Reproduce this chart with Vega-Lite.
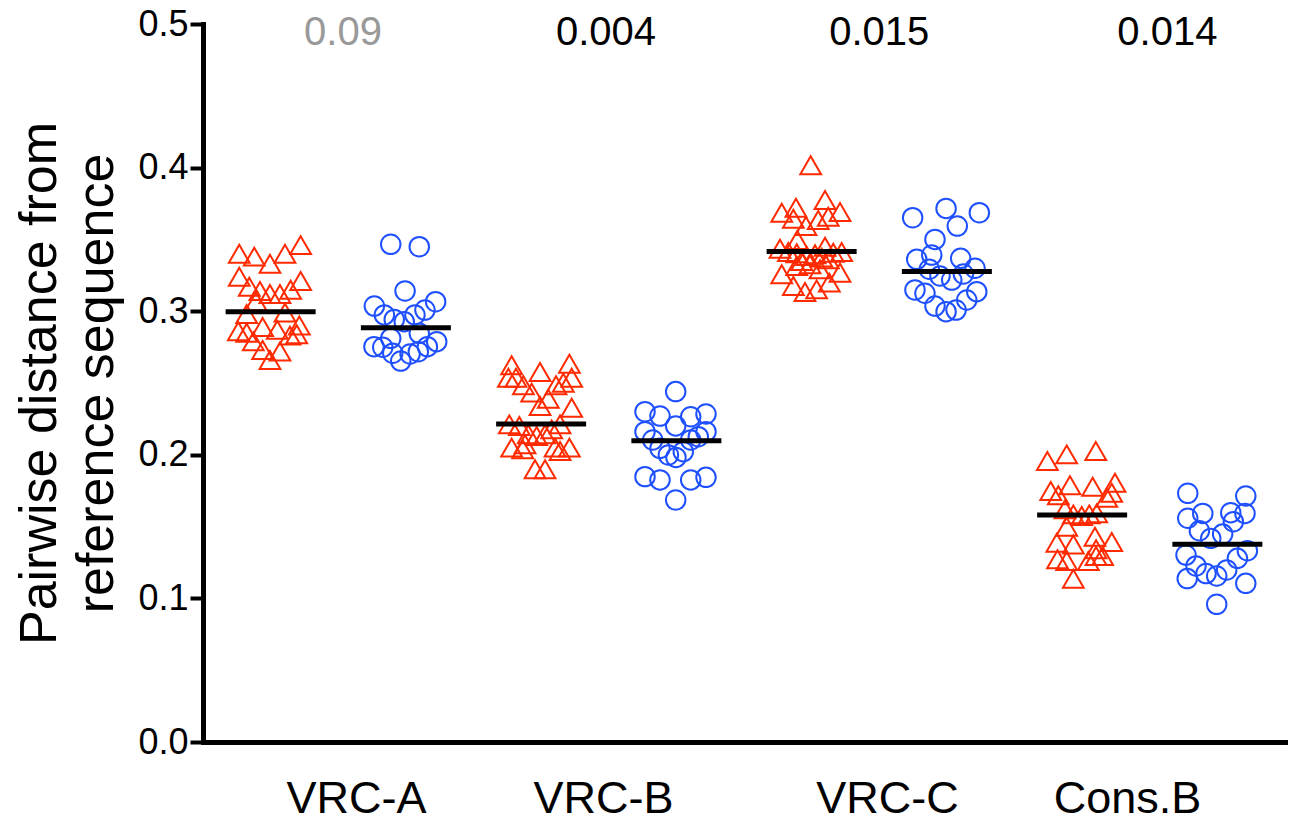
{
  "$schema": "https://vega.github.io/schema/vega-lite/v6.json",
  "width": 1082,
  "height": 718,
  "autosize": {"type": "none"},
  "padding": {"left": 203, "top": 24, "right": 5, "bottom": 80},
  "background": "white",
  "config": {
    "font": "Liberation Sans",
    "view": {"stroke": null},
    "axis": {"grid": false}
  },
  "datasets": {
    "pts": [
      {"g":"VRC-A","series":"Set 1","x":0.268,"v":0.340},{"g":"VRC-A","series":"Set 1","x":0.379,"v":0.338},{"g":"VRC-A","series":"Set 1","x":0.495,"v":0.333},{"g":"VRC-A","series":"Set 1","x":0.606,"v":0.340},{"g":"VRC-A","series":"Set 1","x":0.722,"v":0.346},{"g":"VRC-A","series":"Set 1","x":0.268,"v":0.324},{"g":"VRC-A","series":"Set 1","x":0.342,"v":0.317},{"g":"VRC-A","series":"Set 1","x":0.421,"v":0.314},{"g":"VRC-A","series":"Set 1","x":0.495,"v":0.312},{"g":"VRC-A","series":"Set 1","x":0.569,"v":0.312},{"g":"VRC-A","series":"Set 1","x":0.648,"v":0.315},{"g":"VRC-A","series":"Set 1","x":0.722,"v":0.321},{"g":"VRC-A","series":"Set 1","x":0.392,"v":0.307},{"g":"VRC-A","series":"Set 1","x":0.323,"v":0.298},{"g":"VRC-A","series":"Set 1","x":0.606,"v":0.299},{"g":"VRC-A","series":"Set 1","x":0.261,"v":0.286},{"g":"VRC-A","series":"Set 1","x":0.323,"v":0.285},{"g":"VRC-A","series":"Set 1","x":0.441,"v":0.289},{"g":"VRC-A","series":"Set 1","x":0.549,"v":0.287},{"g":"VRC-A","series":"Set 1","x":0.712,"v":0.290},{"g":"VRC-A","series":"Set 1","x":0.693,"v":0.284},{"g":"VRC-A","series":"Set 1","x":0.372,"v":0.279},{"g":"VRC-A","series":"Set 1","x":0.643,"v":0.283},{"g":"VRC-A","series":"Set 1","x":0.441,"v":0.273},{"g":"VRC-A","series":"Set 1","x":0.569,"v":0.272},{"g":"VRC-A","series":"Set 1","x":0.495,"v":0.266},
      {"g":"VRC-A","series":"Set 2","x":1.388,"v":0.3466},{"g":"VRC-A","series":"Set 2","x":1.599,"v":0.3449},{"g":"VRC-A","series":"Set 2","x":1.494,"v":0.3141},{"g":"VRC-A","series":"Set 2","x":1.267,"v":0.3036},{"g":"VRC-A","series":"Set 2","x":1.341,"v":0.2974},{"g":"VRC-A","series":"Set 2","x":1.414,"v":0.2943},{"g":"VRC-A","series":"Set 2","x":1.488,"v":0.2927},{"g":"VRC-A","series":"Set 2","x":1.567,"v":0.2974},{"g":"VRC-A","series":"Set 2","x":1.641,"v":0.3008},{"g":"VRC-A","series":"Set 2","x":1.720,"v":0.3066},{"g":"VRC-A","series":"Set 2","x":1.388,"v":0.2811},{"g":"VRC-A","series":"Set 2","x":1.599,"v":0.2846},{"g":"VRC-A","series":"Set 2","x":1.264,"v":0.2753},{"g":"VRC-A","series":"Set 2","x":1.329,"v":0.2749},{"g":"VRC-A","series":"Set 2","x":1.403,"v":0.2707},{"g":"VRC-A","series":"Set 2","x":1.462,"v":0.2653},{"g":"VRC-A","series":"Set 2","x":1.531,"v":0.2702},{"g":"VRC-A","series":"Set 2","x":1.592,"v":0.2718},{"g":"VRC-A","series":"Set 2","x":1.659,"v":0.2753},{"g":"VRC-A","series":"Set 2","x":1.728,"v":0.2788},
      {"g":"VRC-B","series":"Set 1","x":2.282,"v":0.2623},{"g":"VRC-B","series":"Set 1","x":2.492,"v":0.2577},{"g":"VRC-B","series":"Set 1","x":2.709,"v":0.2634},{"g":"VRC-B","series":"Set 1","x":2.258,"v":0.2537},{"g":"VRC-B","series":"Set 1","x":2.314,"v":0.2537},{"g":"VRC-B","series":"Set 1","x":2.369,"v":0.2484},{"g":"VRC-B","series":"Set 1","x":2.430,"v":0.2433},{"g":"VRC-B","series":"Set 1","x":2.492,"v":0.2340},{"g":"VRC-B","series":"Set 1","x":2.553,"v":0.2391},{"g":"VRC-B","series":"Set 1","x":2.610,"v":0.2484},{"g":"VRC-B","series":"Set 1","x":2.664,"v":0.2502},{"g":"VRC-B","series":"Set 1","x":2.726,"v":0.2537},{"g":"VRC-B","series":"Set 1","x":2.726,"v":0.2328},{"g":"VRC-B","series":"Set 1","x":2.265,"v":0.2212},{"g":"VRC-B","series":"Set 1","x":2.339,"v":0.2201},{"g":"VRC-B","series":"Set 1","x":2.405,"v":0.2143},{"g":"VRC-B","series":"Set 1","x":2.467,"v":0.2131},{"g":"VRC-B","series":"Set 1","x":2.529,"v":0.2143},{"g":"VRC-B","series":"Set 1","x":2.578,"v":0.2177},{"g":"VRC-B","series":"Set 1","x":2.640,"v":0.2212},{"g":"VRC-B","series":"Set 1","x":2.282,"v":0.2050},{"g":"VRC-B","series":"Set 1","x":2.364,"v":0.2038},{"g":"VRC-B","series":"Set 1","x":2.603,"v":0.2050},{"g":"VRC-B","series":"Set 1","x":2.709,"v":0.2050},{"g":"VRC-B","series":"Set 1","x":2.455,"v":0.1899},{"g":"VRC-B","series":"Set 1","x":2.529,"v":0.1899},{"g":"VRC-B","series":"Set 1","x":2.381,"v":0.2073},{"g":"VRC-B","series":"Set 1","x":2.640,"v":0.2026},
      {"g":"VRC-B","series":"Set 2","x":3.495,"v":0.2440},{"g":"VRC-B","series":"Set 2","x":3.268,"v":0.2300},{"g":"VRC-B","series":"Set 2","x":3.379,"v":0.2270},{"g":"VRC-B","series":"Set 2","x":3.606,"v":0.2265},{"g":"VRC-B","series":"Set 2","x":3.719,"v":0.2284},{"g":"VRC-B","series":"Set 2","x":3.495,"v":0.2201},{"g":"VRC-B","series":"Set 2","x":3.268,"v":0.2161},{"g":"VRC-B","series":"Set 2","x":3.325,"v":0.2103},{"g":"VRC-B","series":"Set 2","x":3.379,"v":0.2045},{"g":"VRC-B","series":"Set 2","x":3.441,"v":0.1999},{"g":"VRC-B","series":"Set 2","x":3.497,"v":0.1982},{"g":"VRC-B","series":"Set 2","x":3.551,"v":0.2022},{"g":"VRC-B","series":"Set 2","x":3.606,"v":0.2103},{"g":"VRC-B","series":"Set 2","x":3.662,"v":0.2126},{"g":"VRC-B","series":"Set 2","x":3.719,"v":0.2161},{"g":"VRC-B","series":"Set 2","x":3.268,"v":0.1848},{"g":"VRC-B","series":"Set 2","x":3.379,"v":0.1825},{"g":"VRC-B","series":"Set 2","x":3.606,"v":0.1825},{"g":"VRC-B","series":"Set 2","x":3.719,"v":0.1843},{"g":"VRC-B","series":"Set 2","x":3.495,"v":0.1685},
      {"g":"VRC-C","series":"Set 1","x":4.493,"v":0.4016},{"g":"VRC-C","series":"Set 1","x":4.599,"v":0.3774},{"g":"VRC-C","series":"Set 1","x":4.384,"v":0.3721},{"g":"VRC-C","series":"Set 1","x":4.279,"v":0.3686},{"g":"VRC-C","series":"Set 1","x":4.365,"v":0.3644},{"g":"VRC-C","series":"Set 1","x":4.458,"v":0.3593},{"g":"VRC-C","series":"Set 1","x":4.549,"v":0.3635},{"g":"VRC-C","series":"Set 1","x":4.623,"v":0.3658},{"g":"VRC-C","series":"Set 1","x":4.710,"v":0.3691},{"g":"VRC-C","series":"Set 1","x":4.394,"v":0.3496},{"g":"VRC-C","series":"Set 1","x":4.266,"v":0.3435},{"g":"VRC-C","series":"Set 1","x":4.328,"v":0.3412},{"g":"VRC-C","series":"Set 1","x":4.390,"v":0.3403},{"g":"VRC-C","series":"Set 1","x":4.464,"v":0.3384},{"g":"VRC-C","series":"Set 1","x":4.525,"v":0.3396},{"g":"VRC-C","series":"Set 1","x":4.599,"v":0.3449},{"g":"VRC-C","series":"Set 1","x":4.660,"v":0.3407},{"g":"VRC-C","series":"Set 1","x":4.722,"v":0.3412},{"g":"VRC-C","series":"Set 1","x":4.575,"v":0.3373},{"g":"VRC-C","series":"Set 1","x":4.623,"v":0.3361},{"g":"VRC-C","series":"Set 1","x":4.279,"v":0.3257},{"g":"VRC-C","series":"Set 1","x":4.390,"v":0.3315},{"g":"VRC-C","series":"Set 1","x":4.488,"v":0.3326},{"g":"VRC-C","series":"Set 1","x":4.562,"v":0.3292},{"g":"VRC-C","series":"Set 1","x":4.710,"v":0.3268},{"g":"VRC-C","series":"Set 1","x":4.365,"v":0.3175},{"g":"VRC-C","series":"Set 1","x":4.451,"v":0.3134},{"g":"VRC-C","series":"Set 1","x":4.537,"v":0.3152},{"g":"VRC-C","series":"Set 1","x":4.631,"v":0.3199},{"g":"VRC-C","series":"Set 1","x":4.427,"v":0.3350},
      {"g":"VRC-C","series":"Set 2","x":5.247,"v":0.3651},{"g":"VRC-C","series":"Set 2","x":5.494,"v":0.3716},{"g":"VRC-C","series":"Set 2","x":5.740,"v":0.3686},{"g":"VRC-C","series":"Set 2","x":5.577,"v":0.3593},{"g":"VRC-C","series":"Set 2","x":5.412,"v":0.3500},{"g":"VRC-C","series":"Set 2","x":5.277,"v":0.3361},{"g":"VRC-C","series":"Set 2","x":5.388,"v":0.3391},{"g":"VRC-C","series":"Set 2","x":5.602,"v":0.3368},{"g":"VRC-C","series":"Set 2","x":5.708,"v":0.3299},{"g":"VRC-C","series":"Set 2","x":5.370,"v":0.3292},{"g":"VRC-C","series":"Set 2","x":5.449,"v":0.3245},{"g":"VRC-C","series":"Set 2","x":5.536,"v":0.3217},{"g":"VRC-C","series":"Set 2","x":5.622,"v":0.3259},{"g":"VRC-C","series":"Set 2","x":5.264,"v":0.3148},{"g":"VRC-C","series":"Set 2","x":5.338,"v":0.3125},{"g":"VRC-C","series":"Set 2","x":5.412,"v":0.3036},{"g":"VRC-C","series":"Set 2","x":5.494,"v":0.2997},{"g":"VRC-C","series":"Set 2","x":5.568,"v":0.3008},{"g":"VRC-C","series":"Set 2","x":5.647,"v":0.3078},{"g":"VRC-C","series":"Set 2","x":5.721,"v":0.3136},
      {"g":"Cons.B","series":"Set 1","x":6.243,"v":0.1957},{"g":"Cons.B","series":"Set 1","x":6.386,"v":0.2003},{"g":"Cons.B","series":"Set 1","x":6.601,"v":0.2026},{"g":"Cons.B","series":"Set 1","x":6.268,"v":0.1748},{"g":"Cons.B","series":"Set 1","x":6.324,"v":0.1718},{"g":"Cons.B","series":"Set 1","x":6.410,"v":0.1788},{"g":"Cons.B","series":"Set 1","x":6.578,"v":0.1778},{"g":"Cons.B","series":"Set 1","x":6.743,"v":0.1806},{"g":"Cons.B","series":"Set 1","x":6.682,"v":0.1701},{"g":"Cons.B","series":"Set 1","x":6.719,"v":0.1736},{"g":"Cons.B","series":"Set 1","x":6.373,"v":0.1620},{"g":"Cons.B","series":"Set 1","x":6.435,"v":0.1585},{"g":"Cons.B","series":"Set 1","x":6.497,"v":0.1574},{"g":"Cons.B","series":"Set 1","x":6.553,"v":0.1585},{"g":"Cons.B","series":"Set 1","x":6.608,"v":0.1592},{"g":"Cons.B","series":"Set 1","x":6.386,"v":0.1499},{"g":"Cons.B","series":"Set 1","x":6.313,"v":0.1388},{"g":"Cons.B","series":"Set 1","x":6.435,"v":0.1376},{"g":"Cons.B","series":"Set 1","x":6.595,"v":0.1430},{"g":"Cons.B","series":"Set 1","x":6.719,"v":0.1393},{"g":"Cons.B","series":"Set 1","x":6.318,"v":0.1272},{"g":"Cons.B","series":"Set 1","x":6.386,"v":0.1260},{"g":"Cons.B","series":"Set 1","x":6.546,"v":0.1260},{"g":"Cons.B","series":"Set 1","x":6.603,"v":0.1342},{"g":"Cons.B","series":"Set 1","x":6.652,"v":0.1295},{"g":"Cons.B","series":"Set 1","x":6.435,"v":0.1137},{"g":"Cons.B","series":"Set 1","x":6.603,"v":0.1295},
      {"g":"Cons.B","series":"Set 2","x":7.281,"v":0.1732},{"g":"Cons.B","series":"Set 2","x":7.710,"v":0.1713},{"g":"Cons.B","series":"Set 2","x":7.281,"v":0.1558},{"g":"Cons.B","series":"Set 2","x":7.392,"v":0.1592},{"g":"Cons.B","series":"Set 2","x":7.599,"v":0.1597},{"g":"Cons.B","series":"Set 2","x":7.704,"v":0.1592},{"g":"Cons.B","series":"Set 2","x":7.618,"v":0.1534},{"g":"Cons.B","series":"Set 2","x":7.367,"v":0.1471},{"g":"Cons.B","series":"Set 2","x":7.451,"v":0.1418},{"g":"Cons.B","series":"Set 2","x":7.539,"v":0.1448},{"g":"Cons.B","series":"Set 2","x":7.268,"v":0.1302},{"g":"Cons.B","series":"Set 2","x":7.722,"v":0.1332},{"g":"Cons.B","series":"Set 2","x":7.342,"v":0.1226},{"g":"Cons.B","series":"Set 2","x":7.648,"v":0.1279},{"g":"Cons.B","series":"Set 2","x":7.277,"v":0.1138},{"g":"Cons.B","series":"Set 2","x":7.416,"v":0.1173},{"g":"Cons.B","series":"Set 2","x":7.495,"v":0.1156},{"g":"Cons.B","series":"Set 2","x":7.569,"v":0.1198},{"g":"Cons.B","series":"Set 2","x":7.710,"v":0.1105},{"g":"Cons.B","series":"Set 2","x":7.495,"v":0.0959}
    ],
    "means": [
      {"g":"VRC-A","series":"Set 1","x":0.5,"v":0.2997},
      {"g":"VRC-A","series":"Set 2","x":1.5,"v":0.2885},
      {"g":"VRC-B","series":"Set 1","x":2.5,"v":0.2214},
      {"g":"VRC-B","series":"Set 2","x":3.5,"v":0.2098},
      {"g":"VRC-C","series":"Set 1","x":4.5,"v":0.3415},
      {"g":"VRC-C","series":"Set 2","x":5.5,"v":0.3276},
      {"g":"Cons.B","series":"Set 1","x":6.5,"v":0.1581},
      {"g":"Cons.B","series":"Set 2","x":7.5,"v":0.1377}
    ],
    "pvals": [
      {"g":"VRC-A","x":1.035,"v":0.4855,"p":0.09,"label":"0.09"},
      {"g":"VRC-B","x":2.98,"v":0.4855,"p":0.004,"label":"0.004"},
      {"g":"VRC-C","x":5.0,"v":0.4855,"p":0.015,"label":"0.015"},
      {"g":"Cons.B","x":7.13,"v":0.4855,"p":0.014,"label":"0.014"}
    ]
  },
  "encoding": {
    "x": {
      "field": "x", "type": "quantitative",
      "scale": {"domain": [0, 8], "nice": false, "zero": false},
      "axis": {
        "title": null,
        "values": [1.131, 2.958, 5.057, 6.832],
        "labelExpr": "datum.value < 2 ? 'VRC-A' : datum.value < 4 ? 'VRC-B' : datum.value < 6 ? 'VRC-C' : 'Cons.B'",
        "ticks": false, "tickSize": 0,
        "labelFontSize": 45, "labelColor": "black",
        "labelBaseline": "alphabetic", "labelPadding": 70,
        "labelFlush": false, "labelOverlap": false,
        "domainWidth": 5, "domainColor": "black", "domainCap": "square",
        "grid": false
      }
    },
    "y": {
      "field": "v", "type": "quantitative",
      "scale": {"domain": [0, 0.5], "nice": false, "zero": false},
      "axis": {
        "title": ["Pairwise distance from", "reference sequence"],
        "values": [0, 0.1, 0.2, 0.3, 0.4, 0.5],
        "format": ".1f",
        "labelFontSize": 36, "labelColor": "black", "labelPadding": 2,
        "labelFlush": false, "labelOverlap": false,
        "tickSize": 13, "tickWidth": 4, "tickColor": "black",
        "domainWidth": 5, "domainColor": "black", "domainCap": "square",
        "titleFontSize": 52, "titleFontWeight": "normal", "titleColor": "black",
        "titleLineHeight": 57, "titlePadding": 14,
        "grid": false
      }
    }
  },
  "layer": [
    {
      "data": {"name": "pts"},
      "transform": [{"filter": "datum.series === 'Set 1'"}],
      "mark": {"type": "point", "shape": "triangle-up", "filled": false, "color": "#ff2a00", "strokeWidth": 2, "size": 430, "opacity": 1}
    },
    {
      "data": {"name": "pts"},
      "transform": [{"filter": "datum.series === 'Set 2'"}],
      "mark": {"type": "point", "shape": "circle", "filled": false, "color": "#1f50ff", "strokeWidth": 2, "size": 380, "opacity": 1}
    },
    {
      "data": {"name": "means"},
      "mark": {"type": "tick", "orient": "horizontal", "size": 90, "thickness": 5, "color": "black", "opacity": 1}
    },
    {
      "data": {"name": "pvals"},
      "mark": {"type": "text", "fontSize": 40, "baseline": "alphabetic", "align": "center"},
      "encoding": {
        "text": {"field": "label"},
        "color": {"condition": {"test": "datum.p > 0.05", "value": "#999999"}, "value": "black"}
      }
    }
  ]
}
